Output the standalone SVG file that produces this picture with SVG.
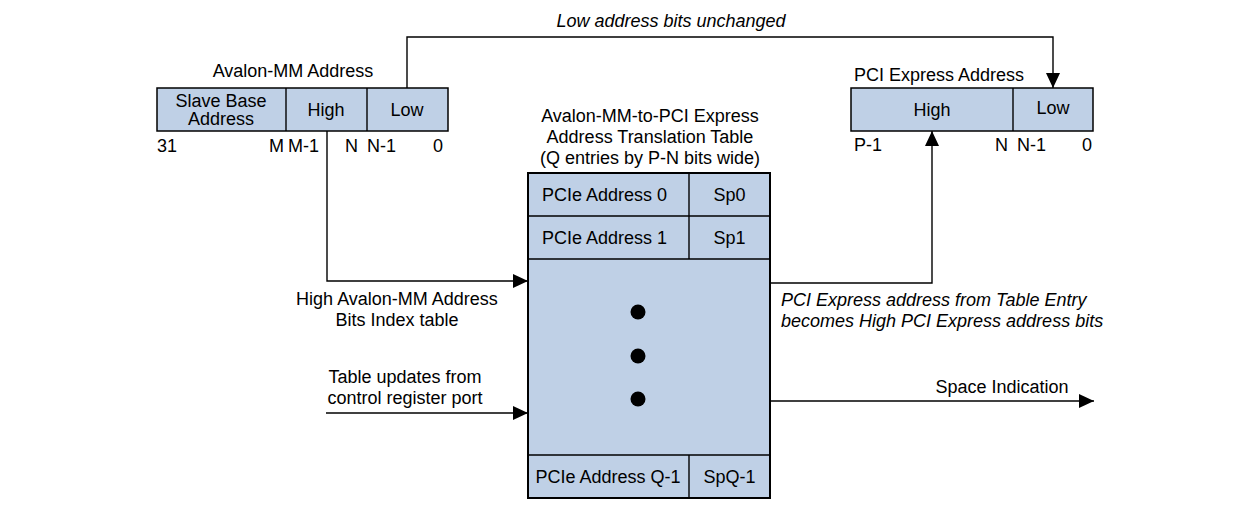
<svg xmlns="http://www.w3.org/2000/svg" width="1257" height="509" viewBox="0 0 1257 509">
<style>
text{font-family:"Liberation Sans",Arial,sans-serif;font-size:18px;fill:#000}
.it{font-style:italic}
.box{fill:#BFD0E6;stroke:#000;stroke-width:1.5}
.tb{fill:#BFD0E6;stroke:#000;stroke-width:2}
.ln{fill:none;stroke:#000;stroke-width:1.4}
.m{text-anchor:middle}
.e{text-anchor:end}
</style>
<defs>
<marker id="ah" markerUnits="userSpaceOnUse" markerWidth="16" markerHeight="14" refX="15" refY="7" orient="auto">
<path d="M0,0 L15,7 L0,14 Z" fill="#000"/>
</marker>
</defs>
<rect width="1257" height="509" fill="#fff"/>

<g id="avalon-address">
<text x="293" y="77" class="m">Avalon-MM Address</text>
<rect x="157" y="88" width="291" height="43" class="box"/>
<line x1="286" y1="88" x2="286" y2="131" class="ln"/>
<line x1="367" y1="88" x2="367" y2="131" class="ln"/>
<text x="221" y="107" class="m">Slave Base</text>
<text x="221" y="125" class="m">Address</text>
<text x="326" y="116" class="m">High</text>
<text x="407" y="116" class="m">Low</text>
<text x="157" y="152">31</text>
<text x="284" y="152" class="e">M</text>
<text x="288" y="152">M-1</text>
<text x="358" y="152" class="e">N</text>
<text x="367" y="152">N-1</text>
<text x="443" y="152" class="e">0</text>
</g>

<g id="pcie-address">
<text x="854" y="81">PCI Express Address</text>
<rect x="851" y="88" width="242" height="43" class="box"/>
<line x1="1013" y1="88" x2="1013" y2="131" class="ln"/>
<text x="932" y="116" class="m">High</text>
<text x="1053" y="114" class="m">Low</text>
<text x="854" y="151">P-1</text>
<text x="1008" y="151" class="e">N</text>
<text x="1017" y="151">N-1</text>
<text x="1092" y="151" class="e">0</text>
</g>

<g id="translation-table">
<text x="650" y="122" class="m">Avalon-MM-to-PCI Express</text>
<text x="650" y="143" class="m">Address Translation Table</text>
<text x="650" y="164" class="m">(Q entries by P-N bits wide)</text>
<rect x="528" y="173" width="242" height="325" class="tb"/>
<line x1="528" y1="216" x2="770" y2="216" class="ln" stroke-width="2"/>
<line x1="528" y1="259" x2="770" y2="259" class="ln" stroke-width="2"/>
<line x1="528" y1="455" x2="770" y2="455" class="ln" stroke-width="2"/>
<line x1="689" y1="173" x2="689" y2="259" class="ln" stroke-width="2"/>
<line x1="689" y1="455" x2="689" y2="498" class="ln" stroke-width="2"/>
<text x="542" y="201">PCIe Address 0</text>
<text x="729.5" y="201" class="m">Sp0</text>
<text x="542" y="244">PCIe Address 1</text>
<text x="729.5" y="244" class="m">Sp1</text>
<text x="608" y="483" class="m">PCIe Address Q-1</text>
<text x="729.5" y="483" class="m">SpQ-1</text>
<circle cx="638" cy="312" r="7.5" fill="#000"/>
<circle cx="638" cy="356" r="7.5" fill="#000"/>
<circle cx="638" cy="399" r="7.5" fill="#000"/>
</g>

<g id="connectors">
<path d="M407,88 V37 H1053 V88" class="ln" marker-end="url(#ah)"/>
<path d="M327,131 V281 H528" class="ln" marker-end="url(#ah)"/>
<path d="M326,413 H528" class="ln" marker-end="url(#ah)"/>
<path d="M770,283 H932 V131" class="ln" marker-end="url(#ah)"/>
<path d="M770,401 H1094" class="ln" marker-end="url(#ah)"/>
</g>

<g id="labels">
<text x="671" y="27" class="m it">Low address bits unchanged</text>
<text x="397" y="305" class="m">High Avalon-MM Address</text>
<text x="397" y="326" class="m">Bits Index table</text>
<text x="405" y="383" class="m">Table updates from</text>
<text x="405" y="404" class="m">control register port</text>
<text x="781" y="306" class="it">PCI Express address from Table Entry</text>
<text x="781" y="327" class="it">becomes High PCI Express address bits</text>
<text x="1002" y="393" class="m">Space Indication</text>
</g>
</svg>
